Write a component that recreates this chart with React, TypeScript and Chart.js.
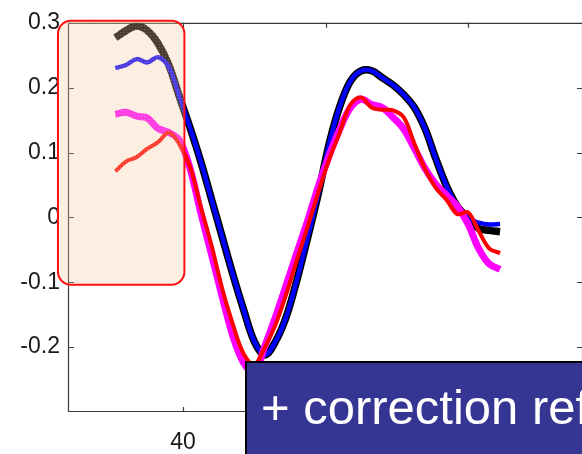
import React, { useEffect, useRef } from "react";
import { Chart, registerables } from "chart.js";

Chart.register(...registerables);

// time samples (x axis units)
const times = [
  30.5, 32, 33.5, 35, 36.5, 38, 39.5, 41, 42.5, 44, 45.5, 47, 48.5, 50, 51.5, 53, 54.5, 56, 57.5,
  59, 60.5, 62, 63.5, 65, 66.5, 68, 69.5, 71, 72.5, 74, 75.5, 77, 78.5, 80, 81.5, 83, 84.5,
];

const blackSeries = [
  0.277, 0.288, 0.295, 0.288, 0.268, 0.235, 0.186, 0.138, 0.086, 0.028, -0.03, -0.088, -0.142,
  -0.191, -0.212, -0.191, -0.153, -0.096, -0.031, 0.037, 0.113, 0.171, 0.21, 0.226, 0.226, 0.215,
  0.204, 0.189, 0.169, 0.136, 0.09, 0.048, 0.017, -0.001, -0.017, -0.02, -0.022,
];

const blueSeries = [
  0.23, 0.235, 0.244, 0.239, 0.247, 0.232, 0.186, 0.138, 0.086, 0.028, -0.03, -0.088, -0.142,
  -0.191, -0.212, -0.191, -0.153, -0.096, -0.031, 0.037, 0.113, 0.171, 0.21, 0.226, 0.226, 0.215,
  0.204, 0.189, 0.169, 0.136, 0.09, 0.048, 0.017, -0.001, -0.008, -0.011, -0.01,
];

const magentaSeries = [
  0.159, 0.162, 0.156, 0.153, 0.137, 0.131, 0.119, 0.075, 0.007, -0.057, -0.122, -0.183, -0.224,
  -0.239, -0.198, -0.153, -0.104, -0.054, -0.005, 0.048, 0.095, 0.136, 0.169, 0.182, 0.174, 0.169,
  0.154, 0.136, 0.106, 0.075, 0.051, 0.034, 0.017, -0.01, -0.048, -0.072, -0.08,
];

const redSeries = [
  0.071, 0.086, 0.093, 0.106, 0.116, 0.131, 0.113, 0.078, 0.016, -0.043, -0.11, -0.165, -0.21,
  -0.227, -0.2, -0.165, -0.118, -0.065, -0.014, 0.039, 0.089, 0.131, 0.174, 0.185, 0.169, 0.166,
  0.165, 0.154, 0.113, 0.074, 0.045, 0.027, 0.005, 0.008, -0.021, -0.048, -0.055,
];

const xTicks = [40, 60, 80];
const yTicks = [-0.2, -0.1, 0, 0.1, 0.2, 0.3];
const yTickLabels = ["-0.2", "-0.1", "0", "0.1", "0.2", "0.3"];

// highlighted window (data units)
const highlightX = [22.45, 40.2];
const highlightY = [-0.104, 0.303];

const bannerText = "+ correction ref";

function toPoints(ys: number[]) {
  return ys.map((y, i) => ({ x: times[i], y }));
}

const framePlugin = {
  id: "frame",
  beforeDatasetsDraw(chart: any) {
    const { ctx, chartArea } = chart;
    const { left, right, top, bottom } = chartArea;
    const xs = chart.scales.x;
    const ys = chart.scales.y;
    ctx.save();
    ctx.strokeStyle = "#3a3a3a";
    ctx.lineWidth = 1.2;
    ctx.beginPath();
    ctx.rect(left - 0.5, top + 0.5, right - left + 1, bottom - top - 1);
    ctx.stroke();
    const tl = 5;
    ctx.beginPath();
    xTicks.forEach((v) => {
      const px = Math.round(xs.getPixelForValue(v)) + 0.5;
      ctx.moveTo(px, bottom);
      ctx.lineTo(px, bottom - tl);
      ctx.moveTo(px, top);
      ctx.lineTo(px, top + tl);
    });
    yTicks.forEach((v) => {
      const py = Math.round(ys.getPixelForValue(v)) + 0.5;
      ctx.moveTo(left, py);
      ctx.lineTo(left + tl, py);
      ctx.moveTo(right, py);
      ctx.lineTo(right - tl, py);
    });
    ctx.stroke();
    ctx.restore();
  },
  afterDatasetsDraw(chart: any) {
    const { ctx } = chart;
    const xs = chart.scales.x;
    const ys = chart.scales.y;
    const x1 = xs.getPixelForValue(highlightX[0]);
    const x2 = xs.getPixelForValue(highlightX[1]);
    const y1 = ys.getPixelForValue(highlightY[1]);
    const y2 = ys.getPixelForValue(highlightY[0]);
    const r = 13;
    ctx.save();
    ctx.beginPath();
    ctx.moveTo(x1 + r, y1);
    ctx.lineTo(x2 - r, y1);
    ctx.arcTo(x2, y1, x2, y1 + r, r);
    ctx.lineTo(x2, y2 - r);
    ctx.arcTo(x2, y2, x2 - r, y2, r);
    ctx.lineTo(x1 + r, y2);
    ctx.arcTo(x1, y2, x1, y2 - r, r);
    ctx.lineTo(x1, y1 + r);
    ctx.arcTo(x1, y1, x1 + r, y1, r);
    ctx.closePath();
    ctx.fillStyle = "rgba(250, 200, 160, 0.3)";
    ctx.fill();
    ctx.save();
    ctx.clip();
    ctx.fillStyle = "rgba(255, 255, 255, 0.22)";
    for (let gx = Math.floor(x1); gx < x2; gx += 3) {
      for (let gy = Math.floor(y1); gy < y2; gy += 3) {
        ctx.fillRect(gx, gy, 1, 1);
      }
    }
    ctx.restore();
    ctx.strokeStyle = "#ff1010";
    ctx.lineWidth = 2;
    ctx.stroke();
    ctx.restore();
  },
};

export default function App() {
  const canvasRef = useRef<HTMLCanvasElement | null>(null);

  useEffect(() => {
    const canvas = canvasRef.current;
    if (!canvas) return;
    const chart = new Chart(canvas, {
      type: "line",
      data: {
        datasets: [
          {
            label: "red",
            data: toPoints(redSeries),
            borderColor: "#ff0000",
            borderWidth: 4,
            pointRadius: 0,
            tension: 0.35,
            fill: false,
          },
          {
            label: "magenta",
            data: toPoints(magentaSeries),
            borderColor: "#ff00ff",
            borderWidth: 7,
            pointRadius: 0,
            tension: 0.35,
            fill: false,
          },
          {
            label: "blue",
            data: toPoints(blueSeries),
            borderColor: "#0000ff",
            borderWidth: 4.5,
            pointRadius: 0,
            tension: 0.35,
            fill: false,
          },
          {
            label: "black",
            data: toPoints(blackSeries),
            borderColor: "#000000",
            borderWidth: 7.5,
            pointRadius: 0,
            tension: 0.35,
            fill: false,
          },
        ],
      },
      options: {
        animation: false,
        responsive: false,
        devicePixelRatio: 1,
        layout: { padding: { top: 17, right: 0, left: 0, bottom: 0 } },
        plugins: {
          legend: { display: false },
          tooltip: { enabled: false },
          title: { display: false },
        },
        scales: {
          x: {
            type: "linear",
            min: 24,
            max: 96,
            grid: { display: false, drawTicks: false },
            border: { display: false },
            afterBuildTicks: (scale: any) => {
              scale.ticks = xTicks.map((v) => ({ value: v }));
            },
            afterFit: (scale: any) => {
              scale.height = 42;
            },
            ticks: {
              autoSkip: false,
              maxRotation: 0,
              padding: 17,
              color: "#1a1a1a",
              font: { family: "'Liberation Sans', Arial, sans-serif", size: 23 },
              callback: (v: any) => String(v),
            },
          },
          y: {
            type: "linear",
            min: -0.3,
            max: 0.3,
            grid: { display: false, drawTicks: false },
            border: { display: false },
            afterBuildTicks: (scale: any) => {
              scale.ticks = yTicks.map((v) => ({ value: v }));
            },
            afterFit: (scale: any) => {
              scale.width = 69;
            },
            ticks: {
              autoSkip: false,
              padding: 9,
              color: "#1a1a1a",
              font: { family: "'Liberation Sans', Arial, sans-serif", size: 23 },
              callback: (v: any) => {
                const idx = yTicks.findIndex((t) => Math.abs(t - Number(v)) < 1e-9);
                return idx >= 0 ? yTickLabels[idx] : "";
              },
            },
          },
        },
      },
      plugins: [framePlugin],
    });
    return () => chart.destroy();
  }, []);

  return (
    <div
      style={{
        position: "fixed",
        left: 0,
        top: 0,
        width: 582,
        height: 454,
        overflow: "hidden",
        background: "#ffffff",
      }}
    >
      <canvas ref={canvasRef} width={582} height={454} style={{ display: "block" }} />
      <div
        style={{
          position: "absolute",
          left: 245,
          top: 361,
          width: 420,
          height: 130,
          boxSizing: "border-box",
          background: "#353594",
          border: "2px solid #000000",
          color: "#ffffff",
          fontFamily: "'Liberation Sans', Arial, sans-serif",
          fontSize: 49,
          lineHeight: "49px",
          paddingTop: 20,
          paddingLeft: 14,
          whiteSpace: "nowrap",
        }}
      >
        {bannerText}
      </div>
    </div>
  );
}
